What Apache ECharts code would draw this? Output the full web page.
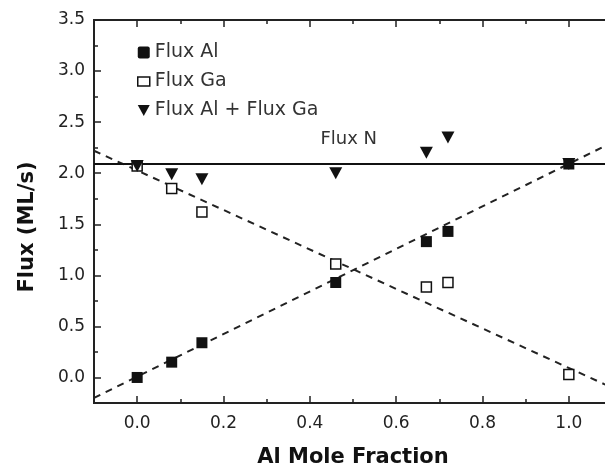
<!DOCTYPE html>
<html style="height:100%">
<head>
    <meta charset="UTF-8">
    <title>Flux vs Al Mole Fraction</title>
    <script src="https://cdn.jsdelivr.net/npm/echarts@6/dist/echarts.min.js"></script>
</head>
<body style="height:100%;margin:0;background:#fff">
<div id="main" style="width:605px;height:470px"></div>
<script>
// values
var fluxAl = [[0.0, 0.0], [0.08, 0.15], [0.15, 0.34], [0.46, 0.93], [0.67, 1.33], [0.72, 1.43], [1.0, 2.09]];
var fluxGa = [[0.0, 2.07], [0.08, 1.85], [0.15, 1.62], [0.46, 1.11], [0.67, 0.885], [0.72, 0.93], [1.0, 0.03]];
var fluxSum = [[0.0, 2.07], [0.08, 1.99], [0.15, 1.94], [0.46, 2.0], [0.67, 2.2], [0.72, 2.35], [1.0, 2.09]];
var fluxN = [[-0.1, 2.09], [1.1, 2.09]];
var fitAl = [[-0.1, -0.2], [1.1, 2.3]];
var fitGa = [[-0.1, 2.22], [1.1, -0.1]];
var xTicks = [0.0, 0.2, 0.4, 0.6, 0.8, 1.0];
var yTicks = [0.0, 0.5, 1.0, 1.5, 2.0, 2.5, 3.0, 3.5];

var FONT = 'DejaVu Sans';
var TRI = 'path://M0,0 L12,0 L6,11 Z';

var chart = echarts.init(document.getElementById('main'), null, { renderer: 'canvas' });

function xAx(pos, major, label) {
    var a = {
        type: 'value', position: pos, min: -0.1, max: 1.1,
        axisLine: { show: true, onZero: false, lineStyle: { color: '#222', width: 2 } },
        splitLine: { show: false },
        axisTick: { show: true, inside: true, length: major ? 7 : 4, lineStyle: { color: '#222', width: 1.5 } },
        axisLabel: { show: false }
    };
    if (major) {
        a.axisTick.customValues = xTicks;
        a.axisLabel = {
            show: label, customValues: xTicks, margin: 12, color: '#222',
            fontFamily: FONT, fontSize: 17,
            formatter: function (v) { return v.toFixed(1); }
        };
    } else {
        a.interval = 0.1;
    }
    return a;
}

function yAx(pos, major, label) {
    var a = {
        type: 'value', position: pos, min: -0.25, max: 3.5,
        axisLine: { show: true, onZero: false, lineStyle: { color: '#222', width: 2 } },
        splitLine: { show: false },
        axisTick: { show: true, inside: true, length: major ? 7 : 4, lineStyle: { color: '#222', width: 1.5 } },
        axisLabel: { show: false }
    };
    if (major) {
        a.axisTick.customValues = yTicks;
        a.axisLabel = {
            show: label, customValues: yTicks, margin: 9, color: '#222',
            fontFamily: FONT, fontSize: 17,
            formatter: function (v) { return v.toFixed(1); }
        };
    } else {
        a.interval = 0.25;
    }
    return a;
}

var xBottom = xAx('bottom', true, true);
xBottom.name = 'Al Mole Fraction';
xBottom.nameLocation = 'middle';
xBottom.nameGap = 44;
xBottom.nameTextStyle = { fontFamily: FONT, fontSize: 21, fontWeight: 'bold', color: '#111' };

var option = {
    animation: false,
    backgroundColor: '#fff',
    grid: { left: 94, width: 518, top: 20, bottom: 67, outerBoundsMode: 'none', containLabel: false },
    xAxis: [xBottom, xAx('bottom', false, false), xAx('top', true, false), xAx('top', false, false)],
    yAxis: [yAx('left', true, true), yAx('left', false, false), yAx('right', true, false), yAx('right', false, false)],
    legend: {
        orient: 'vertical', left: 132, top: 38, itemGap: 10,
        itemWidth: 12, itemHeight: 12,
        textStyle: { fontFamily: FONT, fontSize: 19, color: '#333' },
        data: [
            { name: 'Flux Al', icon: 'path://M2,0 L10,0 Q12,0 12,2 L12,10 Q12,12 10,12 L2,12 Q0,12 0,10 L0,2 Q0,0 2,0 Z' },
            { name: 'Flux Ga', icon: 'path://M0,0 L12,0 L12,9 L0,9 Z', itemStyle: { color: '#fff', borderColor: '#111', borderWidth: 1.5 } },
            { name: 'Flux Al + Flux Ga', icon: TRI }
        ]
    },
    graphic: [
        {
            type: 'text', x: 28, y: 227, rotation: Math.PI / 2,
            style: {
                text: 'Flux (ML/s)', fontFamily: FONT, fontSize: 21, fontWeight: 'bold',
                fill: '#111', align: 'center', verticalAlign: 'middle'
            }
        }
    ],
    series: [
        {
            name: 'fitAl', type: 'line', data: fitAl, symbol: 'none', silent: true,
            lineStyle: { color: '#222', width: 2, type: [7, 6] }, z: 2
        },
        {
            name: 'fitGa', type: 'line', data: fitGa, symbol: 'none', silent: true,
            lineStyle: { color: '#222', width: 2, type: [7, 6] }, z: 2
        },
        {
            name: 'Flux N', type: 'line', data: fluxN, symbol: 'none', silent: true,
            lineStyle: { color: '#111', width: 2 }, z: 2,
            markPoint: {
                symbol: 'rect', symbolSize: 0,
                label: { show: true, formatter: 'Flux N', fontFamily: FONT, fontSize: 18, color: '#333' },
                data: [{ coord: [0.49, 2.33], value: 0 }]
            }
        },
        {
            name: 'Flux Ga', type: 'scatter', data: fluxGa, symbol: 'rect', symbolSize: 10,
            itemStyle: { color: '#fff', borderColor: '#111', borderWidth: 1.5, opacity: 1 }, z: 3
        },
        {
            name: 'Flux Al + Flux Ga', type: 'scatter', data: fluxSum, symbol: TRI, symbolSize: [13, 12],
            itemStyle: { color: '#111', opacity: 1 }, z: 4
        },
        {
            name: 'Flux Al', type: 'scatter', data: fluxAl, symbol: 'rect', symbolSize: 11,
            itemStyle: { color: '#111', opacity: 1 }, z: 5
        }
    ]
};
chart.setOption(option);
</script>
</body>
</html>
